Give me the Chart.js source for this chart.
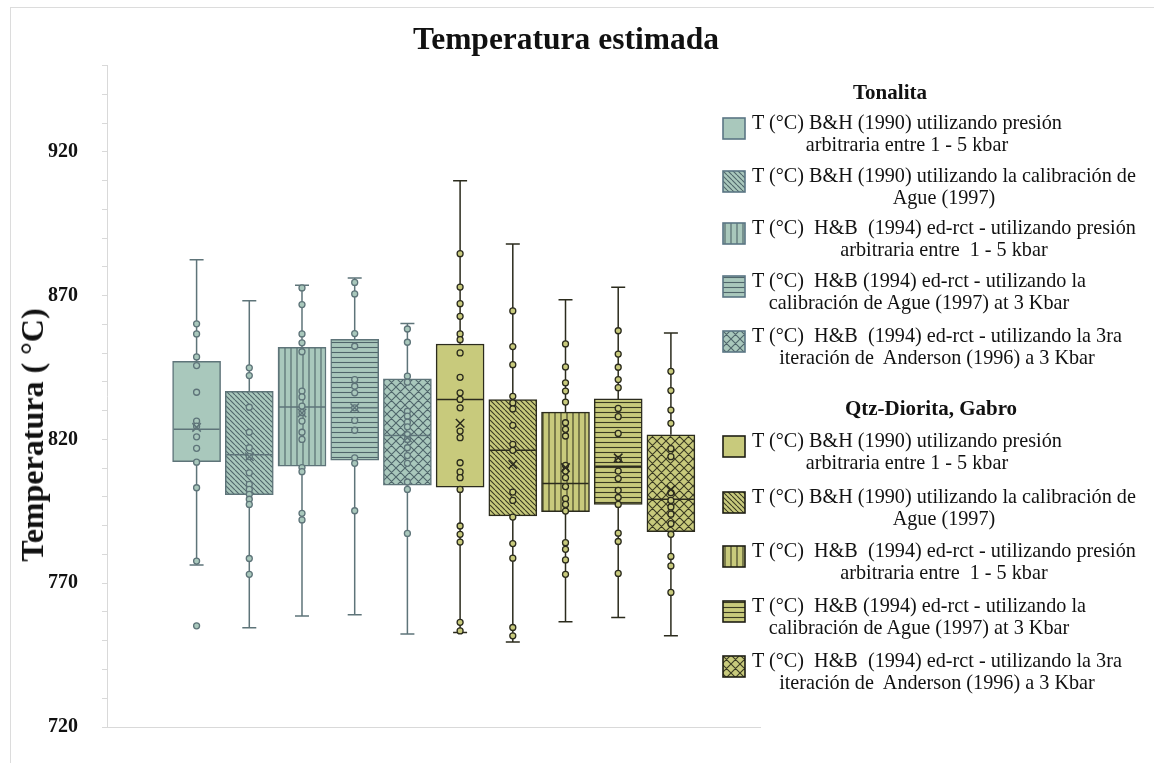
<!DOCTYPE html>
<html>
<head>
<meta charset="utf-8">
<script src="https://cdn.jsdelivr.net/npm/chart.js@4.4.1/dist/chart.umd.min.js"></script>
<style>
  html, body { margin: 0; padding: 0; background: #fff; }
  #wrap { position: relative; width: 1154px; height: 763px; overflow: hidden;
          font-family: "Liberation Serif", "Times New Roman", serif; color: #111; }
  #frame { position: absolute; left: 10px; top: 7px; width: 1200px; height: 800px;
           border-left: 1px solid #dcdcdc; border-top: 1px solid #dcdcdc; }
  #c { position: absolute; left: 0; top: 0; }
  #title { position: absolute; left: 566px; top: 22px; transform: translateX(-50%);
           font-size: 31.5px; font-weight: bold; line-height: 34px; white-space: nowrap; }
  #ytitle { position: absolute; left: 32px; top: 435px; transform: translate(-50%, -50%) rotate(-90deg);
            font-size: 32px; font-weight: bold; line-height: 32px; white-space: pre; }
  .ghead { position: absolute; transform: translateX(-50%); font-weight: bold; font-size: 21px;
           line-height: 24px; white-space: nowrap; }
  .entry { position: absolute; left: 752px; font-size: 20.2px; line-height: 22.5px;
           text-align: center; white-space: pre; }
  .sw { position: absolute; left: 722px; }
</style>
</head>
<body>
<div id="wrap">
  <div id="frame"></div>
  <canvas id="c" width="1154" height="763"></canvas>
  <div id="title">Temperatura estimada</div>
  <div id="ytitle">Temperatura ( °C)</div>
  <div id="legend"></div>
</div>
<script>
// ---- Data (°C) ----
const groupNames = ['Tonalita', 'Qtz-Diorita, Gabro'];
const seriesLabels = [
  ['T (°C) B&H (1990) utilizando presión', 'arbitraria entre 1 - 5 kbar'],
  ['T (°C) B&H (1990) utilizando la calibración de', 'Ague (1997)'],
  ['T (°C)  H&B  (1994) ed-rct - utilizando presión', 'arbitraria entre  1 - 5 kbar'],
  ['T (°C)  H&B (1994) ed-rct - utilizando la', 'calibración de Ague (1997) at 3 Kbar'],
  ['T (°C)  H&B  (1994) ed-rct - utilizando la 3ra', 'iteración de  Anderson (1996) a 3 Kbar']
];
// box index 1..10 : first five Tonalita, last five Qtz-Diorita, Gabro
const minVals    = [776.3, 754.5, 758.6, 759.0, 752.3, 752.9, 749.6, 756.6, 758.1, 751.7];
const q1Vals     = [812.3, 800.8, 810.7, 812.8, 804.1, 803.4, 793.4, 794.9, 797.4, 787.9];
const medianVals = [823.5, 814.7, 831.3, 831.0, 821.4, 833.9, 816.2, 804.7, 810.7, 799.2];
const q3Vals     = [847.2, 836.7, 852.0, 854.8, 841.1, 853.2, 833.9, 829.5, 834.1, 821.6];
const maxVals    = [882.5, 868.2, 873.6, 876.1, 860.3, 910.0, 888.0, 868.6, 872.9, 857.0];
const meanVals   = [824.2, 814.0, 829.2, 831.0, 820.6, 825.6, 811.3, 810.2, 813.6, 802.6];

const pts1  = [860.2, 856.7, 848.7, 845.7, 836.4, 826.4, 824.6, 820.9, 816.9, 812.1, 803.2, 777.7, 755.2];
const pts2  = [844.9, 842.2, 831.2, 822.5, 817.1, 814.0, 808.4, 804.4, 802.6, 800.9, 799.2, 797.4, 778.6, 773.1];
const pts3  = [872.7, 866.9, 856.7, 853.6, 850.5, 836.8, 834.8, 831.6, 829.3, 826.4, 822.5, 820.0, 810.2, 808.8, 794.3, 792.0];
const pts4  = [874.6, 870.6, 856.8, 852.4, 840.8, 838.5, 836.2, 831.0, 826.6, 823.2, 813.6, 811.7, 795.2];
const pts5  = [858.4, 853.8, 842.0, 839.9, 829.8, 828.1, 826.0, 824.4, 821.7, 820.0, 817.1, 814.4, 811.7, 805.2, 802.6, 787.3];
const pts6  = [884.6, 873.0, 867.2, 862.8, 856.7, 854.7, 850.1, 841.6, 836.2, 833.9, 831.0, 822.9, 820.6, 811.9, 808.7, 806.7, 802.6, 789.9, 787.0, 784.3, 756.4, 753.4];
const pts7  = [864.7, 852.3, 846.0, 835.0, 832.7, 830.6, 824.9, 818.3, 816.2, 801.7, 798.8, 793.0, 783.8, 778.7, 754.6, 751.7];
const pts8  = [853.2, 845.2, 839.7, 836.8, 833.0, 825.8, 823.5, 821.2, 811.0, 809.0, 806.7, 803.6, 799.4, 797.4, 795.1, 784.1, 781.8, 778.1, 773.1];
const pts9  = [857.8, 849.7, 845.1, 840.8, 838.0, 830.8, 827.9, 822.1, 813.1, 809.0, 806.4, 802.3, 799.8, 797.4, 787.4, 784.5, 773.4];
const pts10 = [843.7, 837.0, 830.2, 825.6, 816.8, 814.0, 801.5, 798.8, 796.5, 794.0, 790.7, 787.0, 779.3, 776.0, 766.8];
const pointSets = [pts1, pts2, pts3, pts4, pts5, pts6, pts7, pts8, pts9, pts10];

const yTickLabels = [720, 770, 820, 870, 920];

// ---- Styles ----
const FONT = '"Liberation Serif", "Times New Roman", serif';
const groupStyle = [
  { fill: '#a9c8bc', edge: '#5e7479', hatch: '#4f656a', swatchEdge: '#5a7684' },
  { fill: '#c8ca7c', edge: '#2b2b1d', hatch: '#3a3a22', swatchEdge: '#1e1e14' }
];
const hatchKinds = ['solid', 'diag', 'vert', 'horiz', 'cross'];

function makePattern(kind, fill, line) {
  if (kind === 'solid') return fill;
  const s = kind === 'cross' ? 9 : (kind === 'vert' ? 6 : 5);
  const t = document.createElement('canvas');
  t.width = s; t.height = s;
  const g = t.getContext('2d');
  g.fillStyle = fill; g.fillRect(0, 0, s, s);
  g.strokeStyle = line; g.lineWidth = 1.1;
  g.beginPath();
  if (kind === 'diag' || kind === 'cross') {
    for (const o of [-s, 0, s]) { g.moveTo(o, 0); g.lineTo(o + s, s); }
  }
  if (kind === 'cross') {
    for (const o of [-s, 0, s]) { g.moveTo(o + s, 0); g.lineTo(o, s); }
  }
  if (kind === 'vert') { g.moveTo(s / 2, 0); g.lineTo(s / 2, s); }
  if (kind === 'horiz') { g.moveTo(0, s / 2); g.lineTo(s, s / 2); }
  g.stroke();
  const ctx = document.getElementById('c').getContext('2d');
  return ctx.createPattern(t, 'repeat');
}

const boxFills = [], boxEdges = [];
for (let i = 0; i < 10; i++) {
  const gs = groupStyle[i < 5 ? 0 : 1];
  boxFills.push(makePattern(hatchKinds[i % 5], gs.fill, gs.hatch));
  boxEdges.push(gs.edge);
}

// whiskers, caps and median lines drawn right after the boxes
const boxDecor = {
  id: 'boxDecor',
  afterDatasetDraw(chart, args) {
    if (args.index !== 0) return;
    const { ctx, scales: { x, y } } = chart;
    const meta = chart.getDatasetMeta(0);
    ctx.save();
    ctx.lineWidth = 1.5;
    meta.data.forEach((bar, i) => {
      const cx = x.getPixelForValue(i + 1);
      const half = bar.width / 2;
      const yMin = y.getPixelForValue(minVals[i]);
      const yQ1 = y.getPixelForValue(q1Vals[i]);
      const yMed = y.getPixelForValue(medianVals[i]);
      const yQ3 = y.getPixelForValue(q3Vals[i]);
      const yMax = y.getPixelForValue(maxVals[i]);
      ctx.strokeStyle = boxEdges[i];
      ctx.beginPath();
      ctx.moveTo(cx, yMax); ctx.lineTo(cx, yQ3);
      ctx.moveTo(cx, yQ1); ctx.lineTo(cx, yMin);
      ctx.moveTo(cx - 7, yMax); ctx.lineTo(cx + 7, yMax);
      ctx.moveTo(cx - 7, yMin); ctx.lineTo(cx + 7, yMin);
      ctx.moveTo(cx - half + 1, yMed); ctx.lineTo(cx + half - 1, yMed);
      ctx.stroke();
    });
    ctx.restore();
  }
};

function pointsFor(from, to) {
  const out = [];
  for (let i = from; i < to; i++) pointSets[i].forEach(v => out.push({ x: i + 1, y: v }));
  return out;
}
function meansFor(from, to) {
  const out = [];
  for (let i = from; i < to; i++) out.push({ x: i + 1, y: meanVals[i] });
  return out;
}

new Chart(document.getElementById('c'), {
  type: 'bar',
  data: {
    datasets: [
      {
        type: 'bar',
        data: q1Vals.map((q1, i) => ({ x: i + 1, y: [q1, q3Vals[i]] })),
        backgroundColor: boxFills,
        borderColor: boxEdges,
        borderWidth: 1.5,
        borderSkipped: false,
        barThickness: 48,
        order: 3
      },
      {
        type: 'scatter',
        data: pointsFor(0, 5),
        pointRadius: 3,
        pointBorderWidth: 1.3,
        pointBackgroundColor: groupStyle[0].fill,
        pointBorderColor: groupStyle[0].edge,
        order: 2
      },
      {
        type: 'scatter',
        data: pointsFor(5, 10),
        pointRadius: 3,
        pointBorderWidth: 1.3,
        pointBackgroundColor: groupStyle[1].fill,
        pointBorderColor: groupStyle[1].edge,
        order: 2
      },
      {
        type: 'scatter',
        data: meansFor(0, 5),
        pointStyle: 'crossRot',
        pointRadius: 6,
        pointBorderWidth: 1.5,
        pointBorderColor: groupStyle[0].edge,
        order: 1
      },
      {
        type: 'scatter',
        data: meansFor(5, 10),
        pointStyle: 'crossRot',
        pointRadius: 6,
        pointBorderWidth: 1.5,
        pointBorderColor: groupStyle[1].edge,
        order: 1
      }
    ]
  },
  options: {
    responsive: false,
    animation: false,
    events: [],
    layout: { padding: { top: 65.6, right: 393.5, bottom: 0, left: 0 } },
    plugins: { legend: { display: false }, tooltip: { enabled: false }, title: { display: false } },
    scales: {
      x: {
        type: 'linear',
        offset: false,
        min: -0.7, max: 11.7,
        afterFit(s) { s.height = 35; },
        grid: { display: false },
        border: { display: true, color: '#d9d9d9', width: 1 },
        ticks: { display: false }
      },
      y: {
        min: 720, max: 950,
        afterFit(s) { s.width = 107; },
        border: { display: true, color: '#d9d9d9', width: 1 },
        grid: { display: true, drawOnChartArea: false, drawTicks: true, tickLength: 5, color: '#d9d9d9' },
        ticks: {
          stepSize: 10, autoSkip: false, padding: 24, color: '#111',
          font: { family: FONT, size: 20, weight: 'bold' },
          callback: v => (yTickLabels.includes(v) ? String(v) : '')
        }
      }
    }
  },
  plugins: [boxDecor]
});

// ---- Legend ----
const legend = document.getElementById('legend');
const headPos = [{ x: 890, y: 80 }, { x: 931, y: 396 }];
const entryLine1 = [[122, 175, 227, 280, 335], [440, 496, 550, 605, 660]];

groupNames.forEach((name, gi) => {
  const h = document.createElement('div');
  h.className = 'ghead';
  h.style.left = headPos[gi].x + 'px';
  h.style.top = headPos[gi].y + 'px';
  h.textContent = name;
  legend.appendChild(h);

  seriesLabels.forEach((lines, si) => {
    const yc = entryLine1[gi][si];
    const gs = groupStyle[gi];
    const sw = document.createElement('canvas');
    sw.className = 'sw';
    sw.width = 24; sw.height = 23;
    sw.style.top = (yc - 5) + 'px';
    const g = sw.getContext('2d');
    g.fillStyle = makePattern(hatchKinds[si], gs.fill, gs.hatch);
    g.fillRect(1, 1, 22, 21);
    g.strokeStyle = gs.swatchEdge; g.lineWidth = 1.6;
    g.strokeRect(1, 1, 22, 21);
    legend.appendChild(sw);

    const t = document.createElement('div');
    t.className = 'entry';
    t.style.top = (yc - 11.25) + 'px';
    t.textContent = lines.join('\n');
    legend.appendChild(t);
  });
});
</script>
</body>
</html>
